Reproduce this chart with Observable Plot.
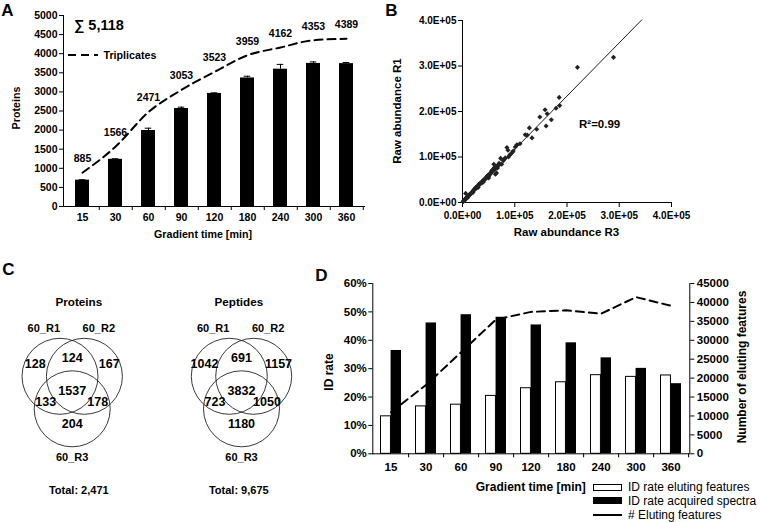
<!DOCTYPE html>
<html><head><meta charset="utf-8">
<script src="https://cdn.jsdelivr.net/npm/d3@7"></script>
<script src="https://cdn.jsdelivr.net/npm/@observablehq/plot@0.6"></script>
<style>
body{margin:0;background:#fff;}
#root{position:relative;width:760px;height:522px;overflow:hidden;font-family:"Liberation Sans",Arial,sans-serif;font-weight:bold;color:#000;}
.t{position:absolute;white-space:nowrap;line-height:1;}
</style></head><body><div id="root"></div>
<script>
// ---------------- DATA ----------------
const gradientTimes = ["15","30","60","90","120","180","240","300","360"];
// Panel A
const proteinsMean = [690, 1235, 1990, 2565, 2960, 3365, 3595, 3745, 3740];
const proteinsErr  = [10, 15, 60, 35, 15, 45, 125, 40, 30];
const triplicates  = [885, 1566, 2471, 3053, 3523, 3959, 4162, 4353, 4389];
const proteinsTotal = "∑ 5,118";
// Panel B (raw abundance, units of 1e5)
const rawR3 = [2.89,2.20,1.85,1.86,1.79,1.58,1.62,1.70,1.48,1.60,1.42,1.28,1.33,1.24,1.20,1.10,1.04,1.01,0.85,0.87,0.88,0.82,0.73,0.75,0.69,0.60,0.63,0.57,0.63,0.50,0.44,0.38,0.32,0.25,0.19,0.13,0.06,0.06,
  0.02,0.04,0.05,0.08,0.09,0.11,0.12,0.14,0.15,0.17,0.18,0.20,0.21,0.22,0.23,0.24,0.26,0.27,0.28,0.29,0.30,0.31,0.33,0.34,0.35,0.36,0.37,0.39,0.40,0.41,0.43,0.45,0.46,0.47,0.48,0.49,0.52,0.53,0.54,0.55,0.56,0.58,0.59,0.61,0.62,0.64,0.66,0.67,0.70,0.71,0.78,0.80,0.90,0.92,0.95,0.97,0.01,0.03,0.07,0.10,0.65,0.50,0.40,0.30,0.20];
const rawR1 = [3.19,2.97,2.31,2.13,2.07,2.04,1.95,1.82,1.88,1.68,1.61,1.64,1.42,1.48,1.49,1.29,1.27,1.22,1.21,1.15,1.00,0.98,0.97,0.84,0.82,0.84,0.75,0.68,0.62,0.57,0.53,0.46,0.41,0.33,0.24,0.17,0.09,0.20,
  0.03,0.05,0.07,0.10,0.12,0.13,0.15,0.18,0.19,0.20,0.22,0.25,0.26,0.28,0.29,0.30,0.31,0.33,0.35,0.36,0.37,0.38,0.40,0.42,0.43,0.44,0.43,0.47,0.49,0.50,0.51,0.55,0.54,0.57,0.59,0.60,0.61,0.63,0.66,0.65,0.70,0.72,0.71,0.77,0.73,0.78,0.80,0.76,0.86,0.84,0.92,0.95,1.04,1.06,1.10,1.13,0.02,0.04,0.08,0.11,0.65,0.54,0.45,0.33,0.22];
const trendSlope = 1.17;
const trendXMax = 3.43;
const r2Label = "R²=0.99";
// Panel C
const vennTitles = ["Proteins", "Peptides"];
const vennTotals = ["Total: 2,471", "Total: 9,675"];
const replicateNames = ["60_R1", "60_R2", "60_R3"];
// region order: R1 only, R2 only, R3 only, R1∩R2, R1∩R3, R2∩R3, all three
const proteinRegions = [128, 167, 204, 124, 133, 178, 1537];
const peptideRegions = [1042, 1157, 1180, 691, 723, 1050, 3832];
// Panel D
const idRateEluting  = [0.132, 0.167, 0.173, 0.204, 0.231, 0.252, 0.277, 0.271, 0.276];
const idRateSpectra  = [0.364, 0.461, 0.490, 0.481, 0.454, 0.391, 0.338, 0.301, 0.247];
const elutingFeatures = [11000, 18200, 26800, 35500, 37500, 37900, 37000, 41400, 39100];
const legendD = ["ID rate eluting features", "ID rate acquired spectra", "# Eluting features"];

// ---------------- HELPERS ----------------
const FONT = '"Liberation Sans", Arial, sans-serif';
const root = document.getElementById("root");
function place(node, left, top) {
  node.style.position = "absolute"; node.style.left = left + "px"; node.style.top = top + "px";
  root.appendChild(node);
}
function label(text, x, y, o = {}) {
  const d = document.createElement("div");
  d.className = "t"; d.textContent = text;
  d.style.left = x + "px"; d.style.top = y + "px";
  d.style.fontSize = (o.size || 11) + "px";
  d.style.fontWeight = o.weight || "bold";
  const ax = o.anchor === "start" ? "0" : o.anchor === "end" ? "-100%" : "-50%";
  d.style.transform = `translate(${ax},-50%)` + (o.rotate ? ` rotate(${o.rotate}deg)` : "");
  root.appendChild(d);
  return d;
}
function box(x, y, w, h, css) {
  const d = document.createElement("div");
  d.style.position = "absolute"; d.style.left = x + "px"; d.style.top = y + "px";
  d.style.width = w + "px"; d.style.height = h + "px"; d.style.boxSizing = "border-box";
  Object.assign(d.style, css);
  root.appendChild(d);
}
const baseStyle = {background: "none", fontFamily: FONT, fontWeight: "bold", color: "#000", overflow: "visible"};

// ---------------- PANEL A ----------------
const tableA = gradientTimes.map((t, i) => ({t, mean: proteinsMean[i], err: proteinsErr[i], trip: triplicates[i]}));
{
  const W = 380, H = 260, mL = 63, mR = 15, mT = 15, mB = 54;
  const step = (W - mL - mR) / gradientTimes.length;
  const pIn = 0.57;
  const bw = step * (1 - pIn);
  const svg = Plot.plot({
    width: W, height: H, marginLeft: mL, marginRight: mR, marginTop: mT, marginBottom: mB,
    style: {...baseStyle, fontSize: "10.5px"},
    x: {type: "band", domain: gradientTimes, paddingInner: pIn, paddingOuter: pIn / 2},
    y: {domain: [0, 5000]},
    marks: [
      Plot.barY(tableA, {x: "t", y: "mean", fill: "#000"}),
      Plot.ruleX(tableA, {x: "t", y1: "mean", y2: d => d.mean + d.err, stroke: "#000", strokeWidth: 1}),
      Plot.tickY(tableA, {x: "t", y: d => d.mean + d.err, stroke: "#000", strokeWidth: 1, insetLeft: (bw - 7) / 2, insetRight: (bw - 7) / 2}),
      Plot.lineY(tableA, {x: "t", y: "trip", curve: "monotone-x", stroke: "#000", strokeWidth: 2, strokeDasharray: "8,5"}),
      Plot.text(tableA, {x: "t", y: "trip", text: d => String(d.trip), dy: -14, fontSize: 10.5, fontWeight: "bold", fill: "#000"}),
      Plot.axisY({ticks: d3.range(0, 5001, 500), tickFormat: d3.format("d"), tickSize: 4, tickPadding: 2, label: null, fontSize: 10.5}),
      Plot.axisX({tickSize: 0, tickPadding: 7, label: null, fontSize: 10.5}),
      Plot.ruleX(gradientTimes, {x: d => d, dx: step / 2, y1: 0, y2: 0, insetBottom: -4, stroke: "#000"}),
      Plot.ruleY([0], {stroke: "#000"}),
      Plot.frame({anchor: "left", stroke: "#000"})
    ]
  });
  place(svg, 0, 0);
  label("A", 7.5, 10, {size: 17});
  label(proteinsTotal, 74, 25, {size: 14.5, anchor: "start"});
  // dashed legend sample
  const ns = "http://www.w3.org/2000/svg";
  const s = document.createElementNS(ns, "svg");
  s.setAttribute("width", 32); s.setAttribute("height", 6);
  s.style.position = "absolute"; s.style.left = "67px"; s.style.top = "52px";
  const ln = document.createElementNS(ns, "line");
  ln.setAttribute("x1", 1); ln.setAttribute("x2", 31); ln.setAttribute("y1", 3); ln.setAttribute("y2", 3);
  ln.setAttribute("stroke", "#000"); ln.setAttribute("stroke-width", 2); ln.setAttribute("stroke-dasharray", "8,5");
  s.appendChild(ln); root.appendChild(s);
  label("Triplicates", 103.5, 55, {size: 10.7, anchor: "start"});
  label("Proteins", 16, 108, {size: 10.7, rotate: -90});
  label("Gradient time [min]", 203, 234, {size: 10.7});
}

// ---------------- PANEL B ----------------
{
  const pts = rawR3.map((x, i) => ({x: x * 1e5, y: rawR1[i] * 1e5}));
  const trend = [{x: 0, y: 0}, {x: trendXMax * 1e5, y: trendSlope * trendXMax * 1e5}];
  const sci = d => d === 0 ? "0.0E+00" : (d / 1e5).toFixed(1) + "E+05";
  const ticks = [0, 1e5, 2e5, 3e5, 4e5];
  const svg = Plot.plot({
    width: 380, height: 260, marginLeft: 82, marginRight: 89, marginTop: 20, marginBottom: 58,
    style: {...baseStyle, fontSize: "10px"},
    x: {domain: [0, 4e5]}, y: {domain: [0, 4e5]},
    marks: [
      Plot.axisX({ticks, tickFormat: sci, tickSize: 5, tickPadding: 4, label: null, fontSize: 10}),
      Plot.axisY({ticks, tickFormat: sci, tickSize: 4, tickPadding: 2, label: null, fontSize: 10}),
      Plot.ruleX([0], {stroke: "#000"}),
      Plot.ruleY([0], {stroke: "#000"}),
      Plot.line(trend, {x: "x", y: "y", stroke: "#000", strokeWidth: 0.9, clip: false}),
      Plot.dot(pts, {x: "x", y: "y", symbol: "diamond2", r: 2.3, fill: "#222", stroke: "none"})
    ]
  });
  place(svg, 380, 0);
  label("B", 391.5, 10, {size: 17});
  label("Raw abundance R1", 398, 111, {size: 11.5, rotate: -90});
  label("Raw abundance R3", 566.5, 233, {size: 11.5});
  label(r2Label, 579, 125, {size: 11.5, anchor: "start"});
}

// ---------------- PANEL C ----------------
{
  const cy = 375.8, rad = 38;
  const vennCx = [71.7, 241];
  const titleDx = [6.6, -2.7];
  const circleOff = [[-12.2, 0], [12.2, 0], [0, 32.5]];
  const regionOff = [[-37, -12.8], [37, -12.8], [0, 47.5], [0, -18], [-26.5, 26], [25.5, 26], [0, 14.2]];
  const nameOff = [[-28.4, -47.5], [26.6, -47.5], [0, 81]];
  const circles = [], regions = [], names = [], titles = [];
  [proteinRegions, peptideRegions].forEach((vals, k) => {
    const cx = vennCx[k];
    circleOff.forEach(([dx, dy]) => circles.push({x: cx + dx, y: cy + dy}));
    vals.forEach((v, j) => regions.push({x: cx + regionOff[j][0], y: cy + regionOff[j][1], text: String(v)}));
    replicateNames.forEach((n, j) => names.push({x: cx + nameOff[j][0], y: cy + nameOff[j][1], text: n}));
    titles.push({x: cx + titleDx[k], y: 301.7, text: vennTitles[k], size: 11.7});
    titles.push({x: cx + titleDx[k], y: 490, text: vennTotals[k], size: 11});
  });
  const svg = Plot.plot({
    width: 300, height: 262, margin: 0,
    style: {...baseStyle, fontSize: "11px"},
    x: {domain: [0, 300], range: [0, 300], axis: null},
    y: {domain: [260, 522], range: [0, 262], axis: null},
    marks: [
      Plot.dot(circles, {x: "x", y: "y", r: rad, stroke: "#222", strokeWidth: 0.9, fill: "none"}),
      Plot.text(regions, {x: "x", y: "y", text: "text", fontSize: 12.5, fontWeight: "bold", fill: "#000"}),
      Plot.text(names, {x: "x", y: "y", text: "text", fontSize: 11, fontWeight: "bold", fill: "#000"}),
      Plot.text(titles.filter((d, i) => i % 2 === 0), {x: "x", y: "y", text: "text", fontSize: 11.7, fontWeight: "bold", fill: "#000"}),
      Plot.text(titles.filter((d, i) => i % 2 === 1), {x: "x", y: "y", text: "text", fontSize: 11, fontWeight: "bold", fill: "#000"})
    ]
  });
  place(svg, 0, 260);
  label("C", 8.5, 269, {size: 17});
}

// ---------------- PANEL D ----------------
{
  const tableD = gradientTimes.map((t, i) => ({t, el: idRateEluting[i], sp: idRateSpectra[i], n: elutingFeatures[i]}));
  const W = 460, H = 262, mL = 72.3, mR = 70.7, mT = 23, mB = 68.7;
  const step = (W - mL - mR) / gradientTimes.length;
  const pIn = 0.4;
  const half = step * (1 - pIn) / 2;
  const pctMax = 0.6, countMax = 45000;
  const toPct = v => v / countMax * pctMax;
  const svg = Plot.plot({
    width: W, height: H, marginLeft: mL, marginRight: mR, marginTop: mT, marginBottom: mB,
    style: {...baseStyle, fontSize: "11.5px"},
    x: {type: "band", domain: gradientTimes, paddingInner: pIn, paddingOuter: pIn / 2},
    y: {domain: [0, pctMax]},
    marks: [
      Plot.barY(tableD, {x: "t", y: "el", fill: "#fff", stroke: "#000", strokeWidth: 1, insetRight: half, insetLeft: 0.5}),
      Plot.barY(tableD, {x: "t", y: "sp", fill: "#000", insetLeft: half}),
      Plot.lineY(tableD, {x: "t", y: d => toPct(d.n), stroke: "#000", strokeWidth: 2, strokeDasharray: "8,5"}),
      Plot.axisY({ticks: d3.range(0, 0.61, 0.1), tickFormat: d3.format(".0%"), tickSize: 4, tickPadding: 2, label: null, fontSize: 11.5}),
      Plot.axisY({anchor: "right", ticks: d3.range(0, countMax + 1, 5000).map(toPct), tickFormat: v => String(Math.round(v / pctMax * countMax)), tickSize: 4, tickPadding: 3, label: null, fontSize: 11.5}),
      Plot.axisX({tickSize: 0, tickPadding: 9, label: null, fontSize: 11.5}),
      Plot.ruleX(gradientTimes, {x: d => d, dx: step / 2, y1: 0, y2: 0, insetBottom: -4, stroke: "#000"}),
      Plot.ruleY([0], {stroke: "#000"}),
      Plot.frame({anchor: "left", stroke: "#000"}),
      Plot.frame({anchor: "right", stroke: "#000"})
    ]
  });
  place(svg, 300, 260);
  label("D", 321.5, 275, {size: 17});
  label("ID rate", 329, 371.7, {size: 12, rotate: -90});
  label("Number of eluting features", 741.5, 367, {size: 12, rotate: -90});
  label("Gradient time [min]", 530.8, 486.7, {size: 12});
  box(592.7, 484, 29, 7, {border: "1px solid #000", background: "#fff"});
  box(592.7, 497, 29, 7, {background: "#000"});
  box(592.7, 514.3, 29, 1.5, {background: "#000"});
  label(legendD[0], 628, 487, {size: 12, weight: "normal", anchor: "start"});
  label(legendD[1], 628, 500.5, {size: 12, weight: "normal", anchor: "start"});
  label(legendD[2], 628, 515, {size: 12, weight: "normal", anchor: "start"});
}
</script></body></html>
